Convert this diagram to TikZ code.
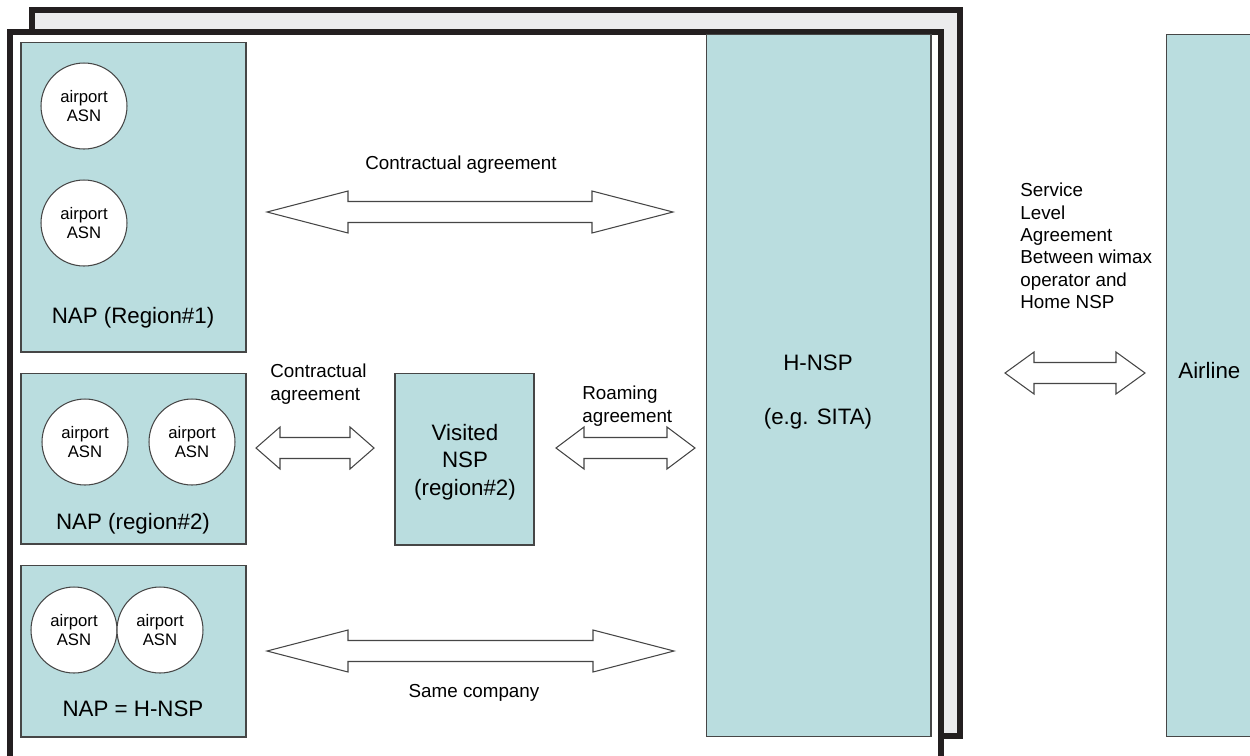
\documentclass[tikz,border=0pt]{standalone}
\usepackage{fontspec}
\setmainfont{Liberation Sans}
\usetikzlibrary{calc}

\definecolor{zoneFill}{RGB}{186,221,223}
\definecolor{zoneLine}{RGB}{70,70,70}
\definecolor{frameBack}{RGB}{235,235,237}
\definecolor{frameLine}{RGB}{35,31,32}

% block arrow with two heads: left tip, right tip, head length
\newcommand{\fatArrow}[3]{%
  \draw[agreeArrow] (#1) -- ($(#1)+(#3,-21)$) -- ($(#1)+(#3,-10.5)$)
    -- ($(#2)+(-#3,-10.5)$) -- ($(#2)+(-#3,-21)$) -- (#2)
    -- ($(#2)+(-#3,21)$) -- ($(#2)+(-#3,10.5)$)
    -- ($(#1)+(#3,10.5)$) -- ($(#1)+(#3,21)$) -- cycle;}

\begin{document}
\begin{tikzpicture}[x=0.02cm,y=-0.02cm,
    zone/.style={draw=zoneLine,line width=0.6pt,fill=zoneFill,rectangle,inner sep=0pt},
    asn/.style={draw=zoneLine,line width=0.6pt,fill=white,circle,minimum size=1.72cm,inner sep=0pt,align=center,font=\fontsize{9.5}{11.3}\selectfont},
    bigTxt/.style={align=center,inner sep=0pt,font=\fontsize{12.7}{15.6}\selectfont},
    smallTxt/.style={align=left,inner sep=0pt,font=\fontsize{10.7}{12.7}\selectfont},
    agreeArrow/.style={draw=zoneLine,line width=0.6pt,fill=white,line join=miter}]
  \useasboundingbox (0,0) rectangle (1250,755);
  \clip (0,0) rectangle (1250,755);

  % the two stacked frames
  \draw[frameLine,line width=3.1pt,fill=frameBack] (32,10) rectangle (960,736);
  \draw[frameLine,line width=3.1pt,fill=white] (10,32) rectangle (941,790);

  \node[zone,minimum width=4.5cm,minimum height=6.2cm] (nap1) at (133.5,197) {};
  \node[zone,minimum width=4.5cm,minimum height=3.42cm] (nap2) at (133.5,458.5) {};
  \node[zone,minimum width=4.5cm,minimum height=3.44cm] (nap3) at (133.5,651) {};
  \node[zone,minimum width=2.78cm,minimum height=3.44cm] (vnsp) at (464.5,459) {};
  \node[zone,minimum width=4.5cm,minimum height=14.06cm] (hnsp) at (818.5,385.5) {};
  \node[zone,minimum width=3.3cm,minimum height=14.06cm] (airline) at (1249,385.5) {};

  \node[asn] (asn1a) at (84,106) {airport\\ASN};
  \node[asn] (asn1b) at (84,223) {airport\\ASN};
  \node[asn] (asn2a) at (85,442) {airport\\ASN};
  \node[asn] (asn2b) at (192,442) {airport\\ASN};
  \node[asn] (asn3a) at (74,630) {airport\\ASN};
  \node[asn] (asn3b) at (160,630) {airport\\ASN};

  \node[bigTxt] (nap1Txt) at (133,318) {NAP (Region\#1)};
  \node[bigTxt] (nap2Txt) at (133,524) {NAP (region\#2)};
  \node[bigTxt] (nap3Txt) at (133,709) {NAP = H-NSP};
  \node[bigTxt] (vnspTxt) at (465,462) {Visited\\NSP\\(region\#2)};
  \node[bigTxt] (hnspTxt) at (818,392) {H-NSP\\[15.6pt](e.g. SITA)};
  \node[bigTxt,anchor=west] (airlineTxt) at (1178,371) {Airline};

  \coordinate (agr1L) at (267,212);
  \coordinate (agr1R) at (673,212);
  \coordinate (agr2L) at (256,448);
  \coordinate (agr2R) at (374,448);
  \coordinate (roamL) at (556,448);
  \coordinate (roamR) at (695,448);
  \coordinate (sameL) at (267,651);
  \coordinate (sameR) at (674,651);
  \coordinate (slaL) at (1005,373);
  \coordinate (slaR) at (1145,373);
  \fatArrow{agr1L}{agr1R}{81}
  \fatArrow{agr2L}{agr2R}{24}
  \fatArrow{roamL}{roamR}{28}
  \fatArrow{sameL}{sameR}{81}
  \fatArrow{slaL}{slaR}{29}

  \node[smallTxt] (agr1Txt) at (461,165) {Contractual agreement};
  \node[smallTxt,anchor=north west] (agr2Txt) at (270,364) {Contractual\\agreement};
  \node[smallTxt,anchor=north west] (roamTxt) at (582,386) {Roaming\\agreement};
  \node[smallTxt] (sameTxt) at (474,693) {Same company};
  \node[smallTxt,anchor=north west] (slaTxt) at (1020,183) {Service\\Level\\Agreement\\Between wimax\\operator and\\Home NSP};
\end{tikzpicture}
\end{document}
